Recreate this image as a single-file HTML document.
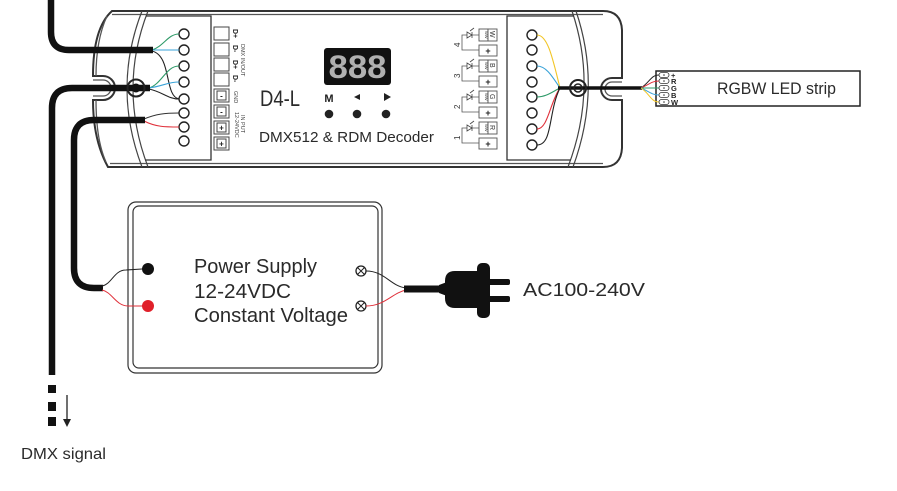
<!DOCTYPE html>
<html><head><meta charset="utf-8"><style>
html,body{margin:0;padding:0;background:#fff;}
svg{display:block;}
text{font-family:"Liberation Sans",sans-serif;}
</style></head><body>
<svg width="897" height="491" viewBox="0 0 897 491" xmlns="http://www.w3.org/2000/svg">
<rect width="897" height="491" fill="#fff"/>

<!-- ===== Main device body ===== -->
<g fill="none" stroke="#333" stroke-width="2">
  <path d="M112,11 L603,11 Q621,11 622,30 L622,78 L612,78 A11,11 0 0 0 612,100 L622,100 L622,148 Q621,167 603,167 L108,167 Q93,140 93,100 L103,100 A12,12 0 0 0 103,76 L93,76 Q93,28 112,11 Z"/>
</g>
<g fill="none" stroke="#555" stroke-width="1.3">
  <path d="M112,14.5 L603,14.5"/>
  <path d="M110,163.5 L603,163.5"/>
  <path d="M93,80 L103,80 A8,8 0 0 1 103,96 L93,96"/>
  <path d="M622,82 L612,82 A7,7 0 0 0 612,96 L622,96"/>
  <path d="M107,16 Q96,40 96,76"/>
  <path d="M96,100 Q96,140 106,162"/>
</g>
<!-- arcs -->
<g fill="none" stroke="#444" stroke-width="1.2">
  <path d="M142,11 Q112,88 142,167"/>
  <path d="M148,11 Q118,88 148,167"/>
  <path d="M572,11 Q598,88 568,167"/>
  <path d="M576,11 Q602,88 573,167"/>
</g>
<!-- terminal panels -->
<g fill="none" stroke="#333" stroke-width="1.3">
  <path d="M146,16 L211,16 L211,160 L145,160"/>
  <path d="M574,16 L507,16 L507,160 L571,160"/>
</g>

<!-- left terminals -->
<g fill="#fff" stroke="#222" stroke-width="1.4">
  <circle cx="184" cy="34" r="5"/>
  <circle cx="184" cy="50" r="5"/>
  <circle cx="184" cy="66" r="5"/>
  <circle cx="184" cy="82" r="5"/>
  <circle cx="184" cy="99" r="5"/>
  <circle cx="184" cy="113" r="5"/>
  <circle cx="184" cy="127" r="5"/>
  <circle cx="184" cy="141" r="5"/>
</g>
<!-- right terminals -->
<g fill="#fff" stroke="#222" stroke-width="1.4">
  <circle cx="532" cy="35" r="5"/>
  <circle cx="532" cy="50" r="5"/>
  <circle cx="532" cy="66" r="5"/>
  <circle cx="532" cy="82" r="5"/>
  <circle cx="532" cy="97" r="5"/>
  <circle cx="532" cy="113" r="5"/>
  <circle cx="532" cy="129" r="5"/>
  <circle cx="532" cy="145" r="5"/>
</g>

<!-- left label boxes -->
<g fill="#fff" stroke="#444" stroke-width="1">
  <rect x="214" y="27" width="15" height="13"/>
  <rect x="214" y="43" width="15" height="13"/>
  <rect x="214" y="58" width="15" height="13"/>
  <rect x="214" y="73" width="15" height="13"/>
  <rect x="214" y="89" width="15" height="13"/>
  <rect x="214" y="105" width="15" height="13"/>
  <rect x="214" y="121" width="15" height="13"/>
  <rect x="214" y="137" width="15" height="13"/>
  <rect x="217" y="91" width="9" height="9"/>
  <rect x="217" y="107" width="9" height="9"/>
  <rect x="217" y="123" width="9" height="9"/>
  <rect x="217" y="139" width="9" height="9"/>
</g>
<g fill="#222" font-size="8" font-weight="bold" text-anchor="middle">
  <text x="221.5" y="98.5">-</text>
  <text x="221.5" y="114.5">-</text>
  <text x="221.5" y="130.5">+</text>
  <text x="221.5" y="146.5">+</text>
</g>
<g fill="#222" font-size="7" font-weight="bold">
  <text transform="translate(233,29) rotate(90)">D+</text>
  <text transform="translate(233,45) rotate(90)">D-</text>
  <text transform="translate(233,60) rotate(90)">D+</text>
  <text transform="translate(233,75) rotate(90)">D-</text>
</g>
<g fill="#444" font-size="5.5">
  <text transform="translate(241,44) rotate(90)">DMX IN/OUT</text>
  <text transform="translate(234,91) rotate(90)">GND</text>
  <text transform="translate(241,115) rotate(90)">IN PUT</text>
  <text transform="translate(235,112) rotate(90)">12-24VDC</text>
</g>

<!-- right label boxes -->
<g fill="#fff" stroke="#555" stroke-width="0.9">
  <rect x="479" y="29" width="9" height="12"/><rect x="488" y="29" width="9" height="12"/><rect x="479" y="45" width="18" height="11"/>
  <rect x="479" y="60" width="9" height="12"/><rect x="488" y="60" width="9" height="12"/><rect x="479" y="76" width="18" height="11"/>
  <rect x="479" y="91" width="9" height="12"/><rect x="488" y="91" width="9" height="12"/><rect x="479" y="107" width="18" height="11"/>
  <rect x="479" y="122" width="9" height="12"/><rect x="488" y="122" width="9" height="12"/><rect x="479" y="138" width="18" height="11"/>
</g>
<g fill="#333" font-size="4" >
  <text transform="translate(485,31) rotate(90)">WW</text>
  <text transform="translate(485,62) rotate(90)">WW</text>
  <text transform="translate(485,93) rotate(90)">WW</text>
  <text transform="translate(485,124) rotate(90)">WW</text>
</g>
<g fill="#333" font-size="7">
  <text transform="translate(490,31) rotate(90)">W</text>
  <text transform="translate(490,63) rotate(90)">B</text>
  <text transform="translate(490,94) rotate(90)">G</text>
  <text transform="translate(490,125) rotate(90)">R</text>
</g>
<g fill="#222" font-size="9" font-weight="bold" text-anchor="middle">
  <text x="488" y="54">+</text>
  <text x="488" y="85">+</text>
  <text x="488" y="116">+</text>
  <text x="488" y="147">+</text>
</g>
<!-- LED symbols and brackets -->
<g fill="none" stroke="#555" stroke-width="0.8">
  <path d="M479,35 L462,35 L462,50 L479,50"/>
  <path d="M479,66 L462,66 L462,81 L479,81"/>
  <path d="M479,97 L462,97 L462,112 L479,112"/>
  <path d="M479,128 L462,128 L462,143 L479,143"/>
</g>
<g fill="#fff" stroke="#444" stroke-width="0.8">
  <path d="M467,32 L467,38 L472,35 Z"/><path d="M472,32 L472,38"/><path d="M470,31 L474,28"/>
  <path d="M467,63 L467,69 L472,66 Z"/><path d="M472,63 L472,69"/><path d="M470,62 L474,59"/>
  <path d="M467,94 L467,100 L472,97 Z"/><path d="M472,94 L472,100"/><path d="M470,93 L474,90"/>
  <path d="M467,125 L467,131 L472,128 Z"/><path d="M472,125 L472,131"/><path d="M470,124 L474,121"/>
</g>
<g fill="#333" font-size="8">
  <text transform="translate(460,47) rotate(-90)">4</text>
  <text transform="translate(460,78) rotate(-90)">3</text>
  <text transform="translate(460,109) rotate(-90)">2</text>
  <text transform="translate(460,140) rotate(-90)">1</text>
</g>

<!-- display -->
<rect x="324" y="48" width="67" height="37" rx="3" fill="#111"/>
<text x="357.5" y="78" font-size="32" font-weight="bold" fill="#b0b0b0" text-anchor="middle" textLength="58" lengthAdjust="spacingAndGlyphs">888</text>
<!-- buttons -->
<text x="329" y="102" font-size="11" font-weight="bold" fill="#222" text-anchor="middle">M</text>
<path d="M354,97 L360,94 L360,100 Z" fill="#222"/>
<path d="M384,93 L391,97 L384,101 Z" fill="#222"/>
<circle cx="329" cy="114" r="4.3" fill="#222"/>
<circle cx="357" cy="114" r="4.3" fill="#222"/>
<circle cx="386" cy="114" r="4.3" fill="#222"/>

<text x="260" y="106" font-size="22" fill="#2a2a2a" textLength="40" lengthAdjust="spacingAndGlyphs">D4-L</text>
<text x="259" y="142" font-size="15" fill="#2a2a2a" textLength="175" lengthAdjust="spacingAndGlyphs">DMX512 &amp; RDM Decoder</text>

<!-- ===== thin wires, left panel ===== -->
<g fill="none" stroke-width="1.1">
  <path d="M152,50 C164,46 168,34 179,34" stroke="#2e9a68"/>
  <path d="M152,50 L179,50" stroke="#3aa3d8"/>
  <path d="M152,51 C172,56 164,96 179,99" stroke="#222"/>
  <path d="M149,88 C162,84 166,66 179,66" stroke="#2e9a68"/>
  <path d="M149,88 C163,86 168,82 179,82" stroke="#3aa3d8"/>
  <path d="M149,89 C163,92 168,99 179,99" stroke="#222"/>
  <path d="M144,119 C156,114 165,113 179,113" stroke="#333"/>
  <path d="M144,121 C156,127 165,127 179,127" stroke="#e0303a"/>
</g>
<!-- ===== right panel wires ===== -->
<g fill="none" stroke-width="1.1">
  <path d="M560,88 C553,60 548,35 537,35" stroke="#f2c524"/>
  <path d="M560,88 C552,76 546,66 537,66" stroke="#3aa3d8"/>
  <path d="M560,88 C552,92 546,97 537,97" stroke="#2e9a68"/>
  <path d="M560,88 C550,102 548,129 537,129" stroke="#e0303a"/>
  <path d="M560,88 C548,112 553,145 537,145" stroke="#222"/>
</g>
<line x1="558" y1="88" x2="642" y2="88" stroke="#111" stroke-width="3.5"/>
<!-- right screw -->
<circle cx="578" cy="88" r="8" fill="none" stroke="#222" stroke-width="2"/>
<circle cx="578" cy="88" r="4" fill="none" stroke="#222" stroke-width="1.5"/>

<!-- strip -->
<rect x="656" y="71" width="204" height="35" fill="#fff" stroke="#222" stroke-width="1.5"/>
<g fill="none" stroke-width="1">
  <path d="M641,88 C650,82 651,75 659,75" stroke="#222"/>
  <path d="M641,88 C650,84 652,81 659,81" stroke="#e0303a"/>
  <path d="M641,88 L659,88" stroke="#2e9a68"/>
  <path d="M641,88 C650,92 652,95 659,95" stroke="#3aa3d8"/>
  <path d="M641,88 C650,94 651,102 659,102" stroke="#f2c524"/>
</g>
<g fill="#fff" stroke="#333" stroke-width="0.8">
  <rect x="659" y="72.5" width="10" height="5" rx="2.5"/>
  <rect x="659" y="78.5" width="10" height="5" rx="2.5"/>
  <rect x="659" y="85.5" width="10" height="5" rx="2.5"/>
  <rect x="659" y="92.5" width="10" height="5" rx="2.5"/>
  <rect x="659" y="99.5" width="10" height="5" rx="2.5"/>
</g>
<g fill="#333">
  <circle cx="664" cy="75" r="0.8"/><circle cx="664" cy="81" r="0.8"/><circle cx="664" cy="88" r="0.8"/><circle cx="664" cy="95" r="0.8"/><circle cx="664" cy="102" r="0.8"/>
</g>
<g fill="#222" font-size="7.5" font-weight="bold">
  <text x="671" y="78">+</text>
  <text x="671" y="84">R</text>
  <text x="671" y="91">G</text>
  <text x="671" y="98">B</text>
  <text x="671" y="105">W</text>
</g>
<text x="717" y="94" font-size="16.5" fill="#2a2a2a" textLength="119" lengthAdjust="spacingAndGlyphs">RGBW LED strip</text>

<!-- ===== left cables ===== -->
<g fill="none" stroke="#111" stroke-width="6.5">
  <path d="M51,0 L51,32 Q51,50 69,50 L153,50"/>
  <path d="M150,88 L72,88 Q52,88 52,108 L52,375"/>
  <path d="M145,120 L94,120 Q74,120 74,140 L74,268 Q74,288 94,288 L103,288"/>
</g>
<!-- left screw -->
<circle cx="136" cy="88" r="8.5" fill="none" stroke="#222" stroke-width="2"/>
<circle cx="136" cy="88" r="4.5" fill="#111"/>

<!-- dashed continuation -->
<rect x="48" y="385" width="8" height="8" fill="#111"/>
<rect x="48" y="402" width="8" height="9" fill="#111"/>
<rect x="48" y="417" width="8" height="9" fill="#111"/>
<line x1="67" y1="395" x2="67" y2="420" stroke="#222" stroke-width="1.3"/>
<path d="M63,419 L71,419 L67,427 Z" fill="#222"/>
<text x="21" y="459" font-size="16" fill="#2a2a2a" textLength="85" lengthAdjust="spacingAndGlyphs">DMX signal</text>

<!-- ===== power supply ===== -->
<rect x="128" y="202" width="254" height="171" rx="8" fill="#fff" stroke="#333" stroke-width="1.2"/>
<rect x="133" y="206" width="245" height="162" rx="6" fill="none" stroke="#333" stroke-width="1.2"/>
<path d="M102,286 C112,284 114,270 126,270 L142,269" fill="none" stroke="#222" stroke-width="1"/>
<path d="M102,290 C112,292 116,306 128,306 L142,306" fill="none" stroke="#e0303a" stroke-width="1"/>
<circle cx="148" cy="269" r="6" fill="#111"/>
<circle cx="148" cy="306" r="6" fill="#e0202a"/>
<text x="194" y="273" font-size="20.5" fill="#2a2a2a" textLength="123" lengthAdjust="spacingAndGlyphs">Power Supply</text>
<text x="194" y="298" font-size="20.5" fill="#2a2a2a" textLength="97" lengthAdjust="spacingAndGlyphs">12-24VDC</text>
<text x="194" y="322" font-size="20.5" fill="#2a2a2a" textLength="154" lengthAdjust="spacingAndGlyphs">Constant Voltage</text>
<g fill="#fff" stroke="#222" stroke-width="1.3">
  <circle cx="361" cy="271" r="5"/>
  <circle cx="361" cy="306" r="5"/>
</g>
<g stroke="#222" stroke-width="1">
  <path d="M357.5,267.5 L364.5,274.5 M364.5,267.5 L357.5,274.5"/>
  <path d="M357.5,302.5 L364.5,309.5 M364.5,302.5 L357.5,309.5"/>
</g>
<path d="M366,271 C385,271 390,286 406,288" fill="none" stroke="#222" stroke-width="1"/>
<path d="M366,306 C385,306 392,293 406,290" fill="none" stroke="#e0303a" stroke-width="1"/>

<!-- plug -->
<line x1="404" y1="289" x2="441" y2="289" stroke="#111" stroke-width="7"/>
<path d="M439,285 L447,282 L447,296 L439,293 Z" fill="#111"/>
<path d="M455,271 L480,271 L480,308 L455,308 Q445,308 445,298 L445,281 Q445,271 455,271 Z" fill="#111"/>
<rect x="477" y="263" width="13" height="55" rx="5" fill="#111"/>
<rect x="488" y="279" width="22" height="6" rx="2" fill="#111"/>
<rect x="488" y="296" width="22" height="6" rx="2" fill="#111"/>
<text x="523" y="296" font-size="18.5" fill="#2a2a2a" textLength="122" lengthAdjust="spacingAndGlyphs">AC100-240V</text>
</svg>
</body></html>
